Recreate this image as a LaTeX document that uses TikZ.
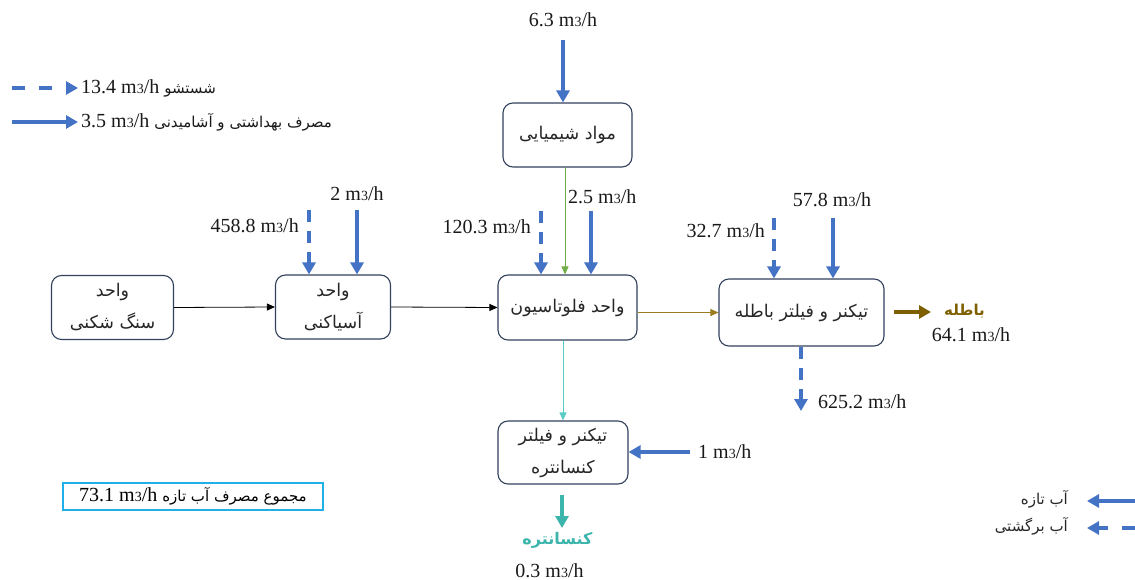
\documentclass[tikz,border=0pt]{standalone}
\usepackage{fontspec}
\setmainfont{Liberation Serif}
\newfontfamily\arabicfont[Script=Arabic]{DejaVu Sans}
\TeXXeTstate=1
\usetikzlibrary{arrows.meta}
\definecolor{wblue}{HTML}{4472C4}
\definecolor{boxc}{HTML}{33415C}
\definecolor{wgreen}{HTML}{70AD47}
\definecolor{olivel}{HTML}{9C7A1E}
\definecolor{brownt}{HTML}{7F6000}
\definecolor{teall}{HTML}{5BCBC5}
\definecolor{tealt}{HTML}{3CB5AC}
\definecolor{cyanb}{HTML}{1FB0E8}
\newcommand\mcube{m{\fontsize{14}{14}\selectfont 3}/h}
\begin{document}
\begin{tikzpicture}[x=1pt,y=-1pt,
  stepbox/.style={draw=boxc, line width=1.1pt, rounded corners=10pt, align=center,
    font=\arabicfont\fontsize{17.5}{32}\selectfont, text=black!85, inner sep=0pt},
  num/.style={font=\fontsize{20}{24}\selectfont, inner sep=0pt, text=black!90},
  artext/.style={font=\arabicfont\fontsize{15}{20}\selectfont, inner sep=0pt, text=black!85},
  fresh/.style={draw=wblue, line width=3.5pt, -{Triangle[length=12pt,width=13pt]}},
  recyc/.style={fresh, dash pattern=on 12pt off 9pt},
  thinarr/.style={line width=0.8pt, -{Triangle[length=8pt,width=7pt]}}]
\useasboundingbox (0,0) rectangle (1135,580);

% boxes
\node[stepbox, minimum width=122pt, minimum height=64pt] (A) at (112.5,307.5) {\beginR واحد\endR\\\beginR سنگ شکنی\endR};
\node[stepbox, minimum width=115pt, minimum height=64pt] (B) at (333,307) {\beginR واحد\endR\\\beginR آسیاکنی\endR};
\node[stepbox, minimum width=139pt, minimum height=65pt] (C) at (567.5,307.5) {\beginR واحد فلوتاسیون\endR};
\node[stepbox, minimum width=129pt, minimum height=64pt] (D) at (567.5,135) {\beginR مواد شیمیایی\endR};
\node[stepbox, minimum width=165pt, minimum height=67pt] (E) at (801.5,312.5) {\beginR تیکنر و فیلتر باطله\endR};
\node[stepbox, minimum width=130pt, minimum height=63pt] (F) at (563,452.5) {\beginR تیکنر و فیلتر\endR\\\beginR کنسانتره\endR};

% thin process connectors
\draw[thinarr, black] (A.east) -- (B.west);
\draw[thinarr, black] (B.east) -- (C.west);
\draw[thinarr, wgreen] (D.south -| 565,0) -- (C.north -| 565,0);
\draw[thinarr, olivel] (C.east |- E) -- (E.west);
\draw[thinarr, teall] (C.south -| F) -- (F.north);

% fresh / recycled water inputs
\coordinate (d0) at (563,40);
\draw[fresh] (d0) -- (D.north -| d0);
\node[num] (t63) at (563,20) {6.3 \mcube};

\coordinate (b1) at (309,210);
\coordinate (b2) at (357,210);
\draw[recyc] (b1) -- (B.north -| b1);
\draw[fresh] (b2) -- (B.north -| b2);
\node[num, anchor=east] (t458) at (299,226) {458.8 \mcube};
\node[num] (t2) at (357,194) {2 \mcube};

\coordinate (c1) at (541,211);
\coordinate (c2) at (591,211);
\draw[recyc] (c1) -- (C.north -| c1);
\draw[fresh] (c2) -- (C.north -| c2);
\node[num, anchor=east] (t120) at (531,227) {120.3 \mcube};
\node[num, anchor=west] (t25) at (568,197) {2.5 \mcube};

\coordinate (e1) at (774,218);
\coordinate (e2) at (833,218);
\draw[recyc] (e1) -- (E.north -| e1);
\draw[fresh] (e2) -- (E.north -| e2);
\node[num, anchor=east] (t327) at (765,231) {32.7 \mcube};
\node[num] (t578) at (832,200) {57.8 \mcube};

\coordinate (e3) at (801,411);
\draw[recyc] (E.south -| e3) -- (e3);
\node[num, anchor=west] (t625) at (818,402) {625.2 \mcube};

\coordinate (f1) at (690,452);
\draw[fresh] (f1) -- (F.east |- f1);
\node[num, anchor=west] (t1) at (698,452) {1 \mcube};

% tailings
\coordinate (w1) at (894,312);
\coordinate (w2) at (931,312);
\draw[draw=brownt, line width=3.5pt, -{Triangle[length=12pt,width=13pt]}] (w1) -- (w2);
\node[anchor=west, inner sep=0pt, text=brownt, font=\arabicfont\bfseries\fontsize{15}{20}\selectfont] (bat) at (944,311) {\beginR باطله\endR};
\node[num] (t641) at (971,335) {64.1 \mcube};

% concentrate
\coordinate (k1) at (562,495);
\coordinate (k2) at (562,528);
\draw[draw=tealt, line width=3.5pt, -{Triangle[length=12pt,width=13pt]}] (k1) -- (k2);
\node[inner sep=0pt, text=tealt, font=\arabicfont\bfseries\fontsize{16}{20}\selectfont] (kon) at (557.5,540) {\beginR کنسانتره\endR};
\node[num] (t03) at (549.5,571) {0.3 \mcube};

% total box
\node[draw=cyanb, line width=2pt, minimum width=260pt, minimum height=27pt, inner sep=0pt, font=\fontsize{20}{24}\selectfont] (tot) at (193,496.5) {73.1 \mcube\ {\arabicfont\fontsize{15}{20}\selectfont\beginR مجموع مصرف آب تازه\endR}};

% legend top-left
\coordinate (l1s) at (12,88);
\coordinate (l1e) at (78,88);
\draw[fresh, dash pattern=on 13pt off 14pt] (l1s) -- (l1e);
\node[num, anchor=west] (l1t) at (81,88) {13.4 \mcube\ {\arabicfont\fontsize{15}{20}\selectfont\beginR شستشو\endR}};
\coordinate (l2s) at (12,122);
\coordinate (l2e) at (78,122);
\draw[fresh] (l2s) -- (l2e);
\node[num, anchor=west] (l2t) at (81,122) {3.5 \mcube\ {\arabicfont\fontsize{15}{20}\selectfont\beginR مصرف بهداشتی و آشامیدنی\endR}};

% legend bottom-right
\coordinate (r1s) at (1135,501);
\coordinate (r1e) at (1087,501);
\draw[fresh] (r1s) -- (r1e);
\node[artext, anchor=east] (r1t) at (1068,499) {\beginR آب تازه\endR};
\coordinate (r2s) at (1135,528);
\coordinate (r2e) at (1087,528);
\draw[fresh, dash pattern=on 13pt off 14pt] (r2s) -- (r2e);
\node[artext, anchor=east] (r2t) at (1068,526) {\beginR آب برگشتی\endR};
\end{tikzpicture}
\end{document}
